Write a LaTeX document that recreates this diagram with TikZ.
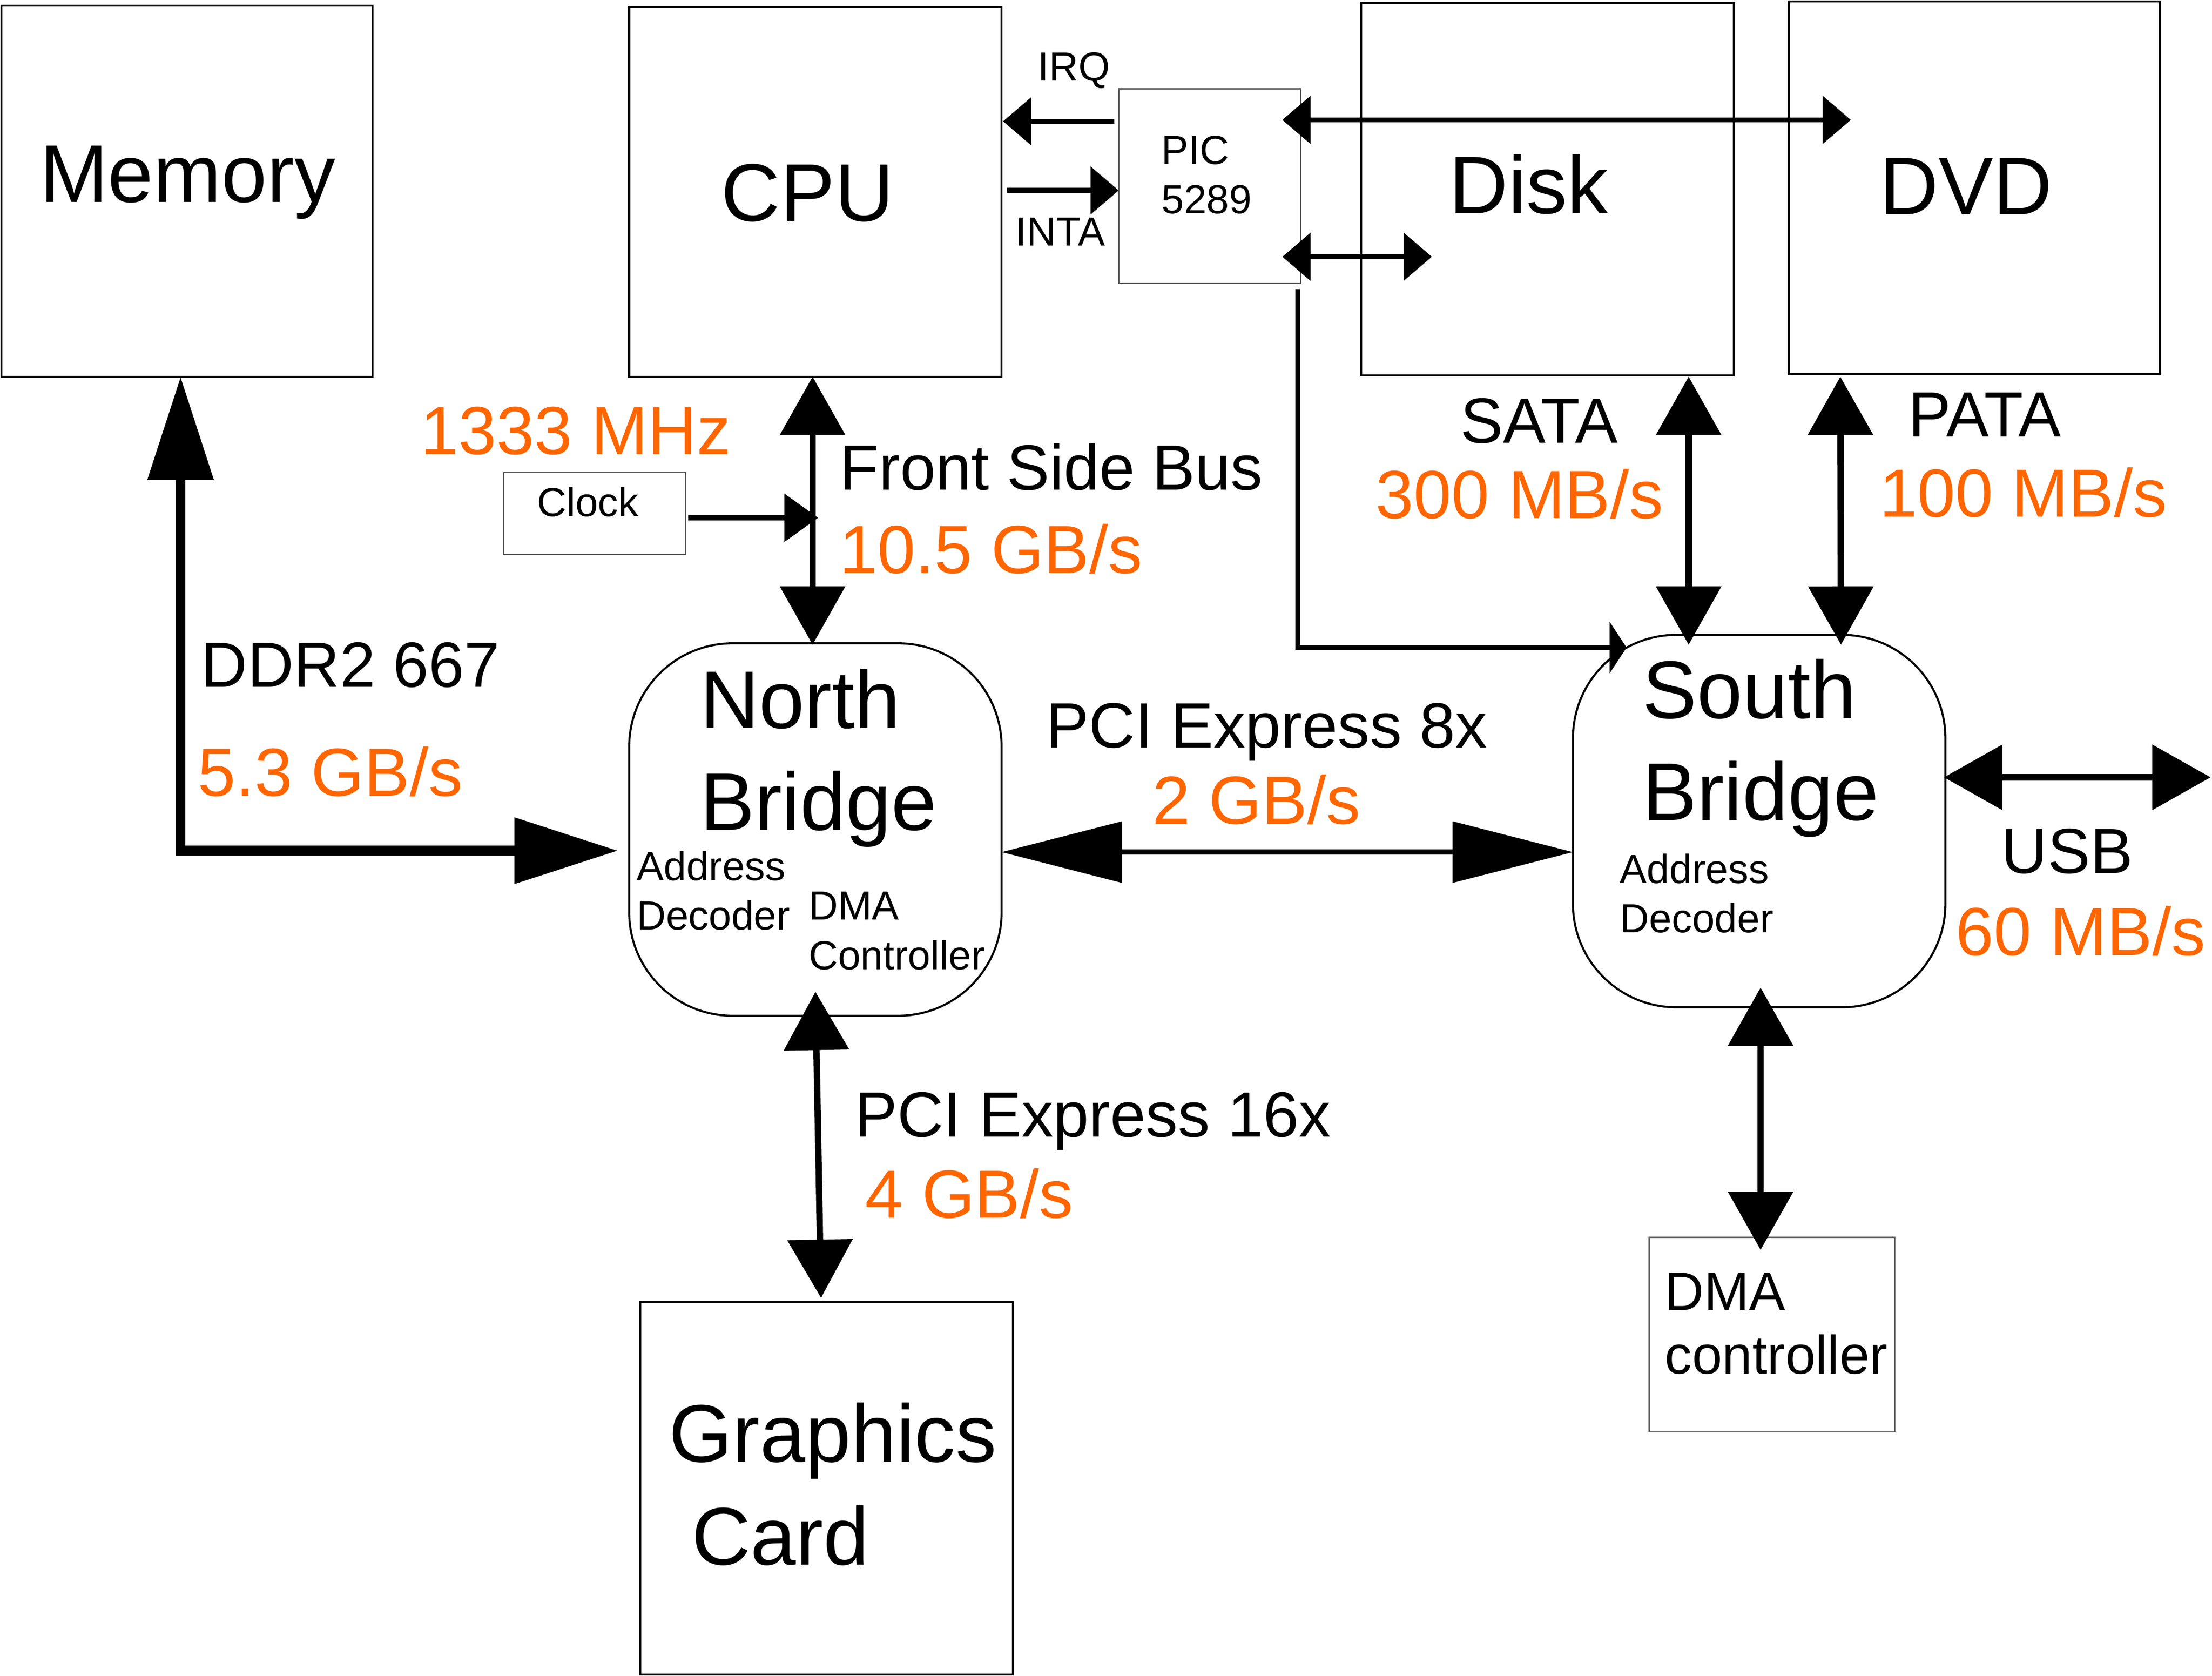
\documentclass[tikz,border=0pt]{standalone}
\usepackage{fontspec}
\setmainfont{Liberation Sans}
\usepackage{tikz}
\usetikzlibrary{arrows.meta,calc}
\definecolor{busorange}{RGB}{255,102,0}

\tikzset{
    unitbox/.style={draw, line width=1.1pt, inner sep=0pt, outer sep=0pt},
    smallbox/.style={draw=black!65, line width=0.6pt, inner sep=0pt, outer sep=0pt},
    bridgebox/.style={draw, line width=1.1pt, rounded corners=55pt, inner sep=0pt, outer sep=0pt,
        minimum width=198pt, minimum height=198pt},
    biglbl/.style={font=\fontsize{43.5}{54}\selectfont, anchor=north west, inner sep=0.75pt, align=left},
    midlbl/.style={font=\fontsize{34}{40}\selectfont, anchor=north west, inner sep=0.75pt, align=left},
    ratelbl/.style={font=\fontsize{36.2}{42}\selectfont, text=busorange, anchor=north west, inner sep=0.75pt},
    smlbl/.style={font=\fontsize{21.6}{26.25}\selectfont, anchor=north west, inner sep=0.75pt, align=left},
    dmalbl/.style={font=\fontsize{28.8}{33.75}\selectfont, anchor=north west, inner sep=0.75pt, align=left},
    bus/.style={line width=3.4pt, {Triangle[length=31pt,width=34pt]}-{Triangle[length=31pt,width=34pt]}},
    membus/.style={line width=5.25pt, {Triangle[length=55pt,width=34pt]}-{Triangle[length=55pt,width=34pt]}},
    pcibus/.style={line width=2.7pt, {Triangle[length=64pt,width=32pt]}-{Triangle[length=64pt,width=32pt]}},
    sig/.style={line width=2.75pt, -{Triangle[length=15pt,width=25pt]}},
    sigboth/.style={line width=2.75pt, {Triangle[length=15pt,width=25pt]}-{Triangle[length=15pt,width=25pt]}},
    clk/.style={line width=3pt, -{Triangle[length=18pt,width=25pt]}},
    tap/.style={line width=2.5pt, -{Triangle[length=9pt,width=27pt]}},
}

\begin{document}
\begin{tikzpicture}[x=0.75pt,y=0.75pt,yscale=-1,xscale=1]
        \useasboundingbox (0,0) rectangle (1568,1188);

        \node [unitbox, minimum width=197.25pt, minimum height=197.25pt] (mem) at (132.5,135.5) {};
        \node [unitbox, minimum width=198pt, minimum height=196.5pt] (cpu) at (578,136) {};
        \node [unitbox, minimum width=198pt, minimum height=198pt] (disk) at (1097,134) {};
        \node [unitbox, minimum width=197.25pt, minimum height=198pt] (dvd) at (1399.5,133) {};
        \node [unitbox, minimum width=198pt, minimum height=198pt] (gfx) at (586,1055) {};
        \node [smallbox, minimum width=96.75pt, minimum height=103.5pt] (pic) at (857.5,132) {};
        \node [smallbox, minimum width=96.75pt, minimum height=43.5pt] (clock) at (421.5,364) {};
        \node [smallbox, minimum width=130.5pt, minimum height=103.5pt] (dma) at (1256,946) {};
        \node [bridgebox] (nb) at (578,588) {};
        \node [bridgebox] (sb) at (1247,582) {};
        \coordinate (usbend) at (1567,551);
        \coordinate (sbtap) at (1153,459);

        \node [biglbl] (memtxt) at (27,102) {Memory};
        \node [biglbl] (cputxt) at (510,115) {CPU};
        \node [biglbl] (disktxt) at (1026,108) {Disk};
        \node [biglbl] (dvdtxt) at (1331,111) {DVD};
        \node [biglbl] (nbtxt) at (495,473) {North\\Bridge};
        \node [biglbl] (sbtxt) at (1163,466) {South\\Bridge};
        \node [biglbl] (gfxtxt) at (473,993) {Graphics};
        \node [biglbl] (cardtxt) at (489,1066) {Card};

        \node [smlbl] (irqtxt) at (734.5,36) {IRQ};
        \node [smlbl] (intatxt) at (718.5,153) {INTA};
        \node [smlbl] (pictxt) at (822,95) {PIC\\5289};
        \node [smlbl] (clocktxt) at (379.5,344) {Clock};
        \node [smlbl] (nbaddr) at (450,602) {Address\\Decoder};
        \node [smlbl] (nbdma) at (572,631) {DMA\\Controller};
        \node [smlbl] (sbaddr) at (1147,604) {Address\\Decoder};
        \node [dmalbl] (dmatxt) at (1179,901) {DMA\\controller};

        \node [midlbl] (fsbtxt) at (594,313) {Front Side Bus};
        \node [midlbl] (ddrtxt) at (141.5,454) {DDR2 667};
        \node [midlbl] (pci8txt) at (740.5,497) {PCI Express 8x};
        \node [midlbl] (pci16txt) at (604.5,773) {PCI Express 16x};
        \node [midlbl] (satatxt) at (1034,281) {SATA};
        \node [midlbl] (patatxt) at (1351.5,277) {PATA};
        \node [midlbl] (usbtxt) at (1417.5,586) {USB};

        \node [ratelbl] (mhztxt) at (297,287) {1333 MHz};
        \node [ratelbl] (fsbrate) at (594,370) {10.5 GB/s};
        \node [ratelbl] (memrate) at (139,528) {5.3 GB/s};
        \node [ratelbl] (pci8rate) at (815.5,548) {2 GB/s};
        \node [ratelbl] (pci16rate) at (612,827) {4 GB/s};
        \node [ratelbl] (satarate) at (974,331) {300 MB/s};
        \node [ratelbl] (patarate) at (1331,330) {100 MB/s};
        \node [ratelbl] (usbrate) at (1385,641) {60 MB/s};

        \draw [membus] ($(mem.south)+(-4.5,0)$) |- ($(nb.west)+(-8,15)$);
        \draw [bus] ($(cpu.south)+(-2,0)$) -- ($(nb.north)+(-2,1)$);
        \draw [pcibus] ($(nb.east)+(0,16)$) -- ($(sb.west)+(0,22)$);
        \draw [bus] ($(nb.south)+(0,-17)$) -- ($(gfx.north)+(-4,-3)$);
        \draw [bus] ($(disk.south)+(100,1)$) -- ($(sb.north)+(-50,7)$);
        \draw [bus] ($(dvd.south)+(-95,2)$) -- ($(sb.north)+(58,7)$);
        \draw [bus] ($(sb.east)+(-1,-31)$) -- (usbend);
        \draw [bus] ($(sb.south)+(1,-14)$) -- ($(dma.north)+(-8,9)$);

        \draw [sig] ($(pic.west)+(-3,-46)$) -- ($(cpu.east)+(1,-50)$);
        \draw [sig] ($(cpu.east)+(4,-1)$) -- ($(pic.west)+(0,3)$);
        \draw [sigboth] ($(pic.east)+(-13,-47)$) -- ($(dvd.west)+(44,-48)$);
        \draw [sigboth] ($(pic.east)+(-13,50)$) -- ($(disk.west)+(50,48)$);
        \draw [clk] ($(clock.east)+(2,3)$) -- ($(cpu.south |- clock.east)+(2,3)$);
        \draw [tap] ($(pic.south east)+(-2,4)$) |- (sbtap);
\end{tikzpicture}
\end{document}
